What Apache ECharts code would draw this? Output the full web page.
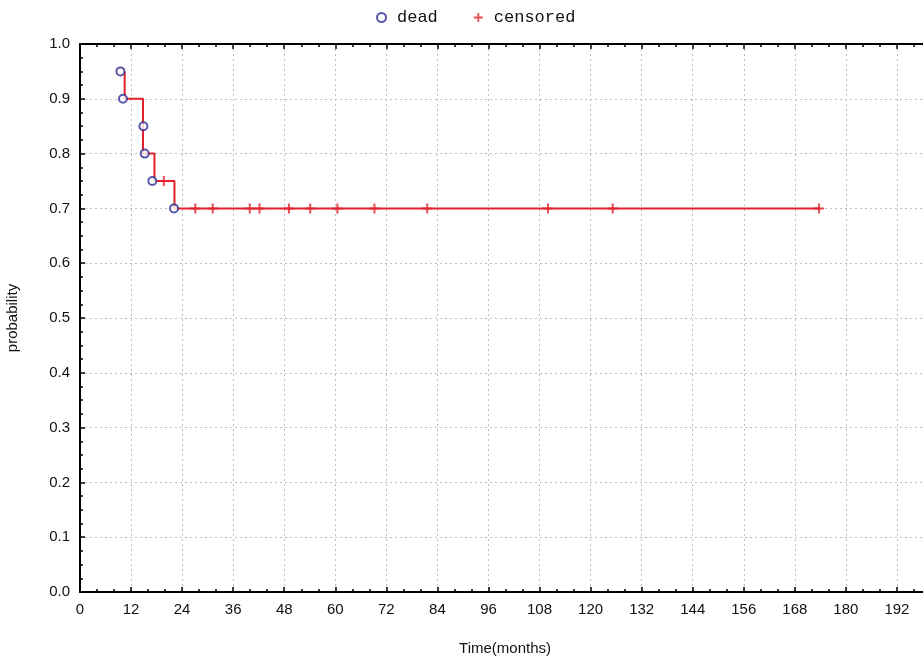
<!DOCTYPE html>
<html>
<head>
<meta charset="utf-8">
<script src="https://cdn.jsdelivr.net/npm/echarts@6/dist/echarts.min.js"></script>
<style>html,body{margin:0;padding:0;background:#fff;}#c{width:923px;height:665px;}</style>
</head>
<body>
<div id="c"></div>
<script>
// Kaplan-Meier curve: step times and survival levels
const stepTimes = [10.5, 14.8, 17.5, 22.2];
const stepLevels = [0.95, 0.9, 0.8, 0.75, 0.7];
const curveEnd = 174;
// dead (event) markers
const deadTimes = [9.5, 10.1, 14.9, 15.2, 17.0, 22.1];
const deadProbs = [0.95, 0.9, 0.85, 0.8, 0.75, 0.7];
// censored markers
const censTimes = [19.7, 27.1, 31.2, 39.9, 42.2, 49.1, 54.1, 60.5, 69.2, 81.6, 110.0, 125.2, 173.7];
const censProbs = [0.75, 0.7, 0.7, 0.7, 0.7, 0.7, 0.7, 0.7, 0.7, 0.7, 0.7, 0.7, 0.7];
const yTicks = ['0.0','0.1','0.2','0.3','0.4','0.5','0.6','0.7','0.8','0.9','1.0'];

const curve = [];
for (let i = 0; i < stepTimes.length; i++) {
  curve.push([stepTimes[i], stepLevels[i]]);
  curve.push([stepTimes[i], stepLevels[i + 1]]);
}
curve.push([curveEnd, stepLevels[stepLevels.length - 1]]);

const plusPath = 'path://M4,0H6V4H10V6H6V10H4V6H0V4H4Z';
const RED = '#e3202c';
const BLUE = '#2f2d94';
const FONT = '"Liberation Sans", Arial, sans-serif';

const chart = echarts.init(document.getElementById('c'), null, {renderer: 'canvas'});
const axisCommon = {
  min: 0, max: 204, interval: 12,
  axisLine: {show: true, onZero: false, lineStyle: {color: '#000', width: 2}},
  axisTick: {show: true, inside: true, length: 5, lineStyle: {color: '#000', width: 1.5}},
  minorTick: {show: true, splitNumber: 3, length: 3, lineStyle: {color: '#000', width: 1.5}}
};
chart.setOption({
  backgroundColor: '#fff',
  animation: false,
  legend: {
    left: 371, top: 4, itemWidth: 9, itemHeight: 9, itemGap: 36,
    textStyle: {fontFamily: '"Liberation Mono", "DejaVu Sans Mono", monospace', fontSize: 17, color: '#111',
      padding: [0, 0, 0, 6]},
    data: [
      {name: 'dead', icon: 'emptyCircle', itemStyle: {color: BLUE, borderColor: BLUE, borderWidth: 2}},
      {name: 'censored', icon: plusPath, itemStyle: {color: RED}}
    ]
  },
  grid: {left: 80, top: 44, width: 868, height: 548, containLabel: false, outerBoundsMode: 'none'},
  xAxis: [
    Object.assign({}, axisCommon, {
      type: 'value', position: 'bottom',
      axisLabel: {margin: 10, fontFamily: FONT, fontSize: 15, color: '#111'},
      splitLine: {show: true, lineStyle: {color: '#bdbdbd', width: 1, type: [2, 3]}},
      name: 'Time(months)', nameLocation: 'middle', nameGap: 49,
      nameTextStyle: {fontFamily: FONT, fontSize: 15, color: '#111', padding: [0, 18, 0, 0]}
    }),
    Object.assign({}, axisCommon, {
      type: 'value', position: 'top',
      axisLabel: {show: false},
      splitLine: {show: false}
    })
  ],
  yAxis: {
    type: 'value', min: 0, max: 1, interval: 0.1,
    axisLine: {show: true, lineStyle: {color: '#000', width: 2}},
    axisTick: {show: true, inside: true, length: 5, lineStyle: {color: '#000', width: 1.5}},
    minorTick: {show: true, splitNumber: 4, length: 3, lineStyle: {color: '#000', width: 1.5}},
    axisLabel: {margin: 10, fontFamily: FONT, fontSize: 15, color: '#111',
      formatter: function (v) { return yTicks[Math.round(v * 10)]; }},
    splitLine: {show: true, lineStyle: {color: '#bdbdbd', width: 1, type: [2, 3]}},
    name: 'probability', nameLocation: 'middle', nameGap: 60, nameRotate: 90,
    nameTextStyle: {fontFamily: FONT, fontSize: 15, color: '#111'}
  },
  series: [
    {
      name: 'curve', type: 'line', data: curve, showSymbol: false, symbol: 'none',
      lineStyle: {color: RED, width: 2}, silent: true, z: 2
    },
    {
      name: 'censored', type: 'scatter',
      data: censTimes.map((t, i) => [t, censProbs[i]]),
      symbol: plusPath, symbolSize: 10, itemStyle: {color: RED}, z: 3
    },
    {
      name: 'dead', type: 'scatter',
      data: deadTimes.map((t, i) => [t, deadProbs[i]]),
      symbol: 'emptyCircle', symbolSize: 8,
      itemStyle: {color: BLUE, borderColor: BLUE, borderWidth: 2}, z: 4
    }
  ]
});
</script>
</body>
</html>
